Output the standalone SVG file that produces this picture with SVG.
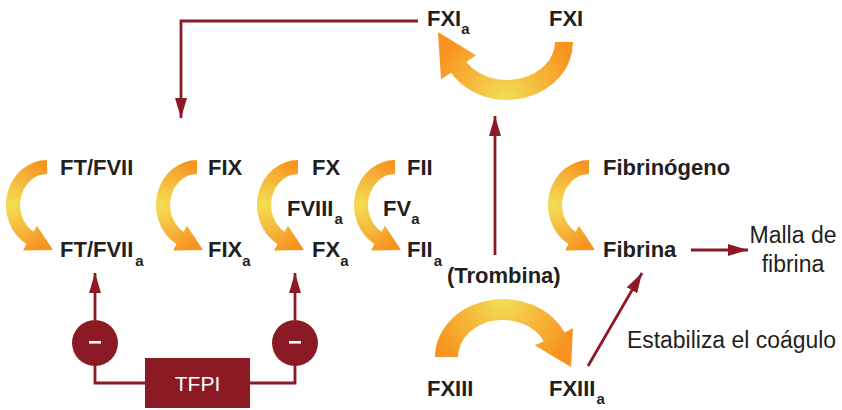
<svg xmlns="http://www.w3.org/2000/svg" xmlns:xlink="http://www.w3.org/1999/xlink" width="842" height="410" viewBox="0 0 842 410">
<style>
.b{font-family:"Liberation Sans",Arial,sans-serif;font-weight:bold;font-size:22px;fill:#231f20}
.s{font-size:15px}
.r{font-family:"Liberation Sans",Arial,sans-serif;font-size:23px;fill:#231f20}
.ln{fill:none;stroke:#8c1a24;stroke-width:2.8}
.dk{fill:#8c1a24}
.w{font-family:"Liberation Sans",Arial,sans-serif;font-size:21px;fill:#ffffff}
</style>
<defs>
<radialGradient id="gs" gradientUnits="userSpaceOnUse" cx="12" cy="205" r="52">
<stop offset="0" stop-color="#f3df52"/><stop offset="0.5" stop-color="#f5b83c"/><stop offset="1" stop-color="#f7931e"/>
</radialGradient>
<radialGradient id="gt" gradientUnits="userSpaceOnUse" cx="505" cy="100" r="78">
<stop offset="0" stop-color="#f3df52"/><stop offset="0.5" stop-color="#f5b83c"/><stop offset="1" stop-color="#f7931e"/>
</radialGradient>
<radialGradient id="gb" gradientUnits="userSpaceOnUse" cx="503" cy="300" r="78">
<stop offset="0" stop-color="#f3df52"/><stop offset="0.5" stop-color="#f5b83c"/><stop offset="1" stop-color="#f7931e"/>
</radialGradient>
<path id="carc" fill="url(#gs)" d="M47 160 A41 45 0 0 0 26.5 244 L23 250.5 L53 250 L37 225.7 L33.5 231.8 A27 31 0 0 1 47 174 Z"/>
<marker id="ah" markerUnits="userSpaceOnUse" markerWidth="22" markerHeight="12" refX="20" refY="6" orient="auto" viewBox="0 0 22 12">
<path d="M0 0 L20 6 L0 12 Z" fill="#8c1a24"/>
</marker>
</defs>

<g id="arcs">
<use xlink:href="#carc"/>
<use xlink:href="#carc" x="150"/>
<use xlink:href="#carc" x="251"/>
<use xlink:href="#carc" x="348"/>
<use xlink:href="#carc" x="542"/>
<path fill="url(#gt)" d="M573 42 A66 58 0 0 1 451 72.7 L441 79.5 L438 32 L476 55.3 L466.3 62.1 A48 38 0 0 0 555 42 Z"/>
<path fill="url(#gb)" d="M435 357 A68 58 0 0 1 564.6 332.5 L573 328 L571 367 L534.6 345.2 L543.8 341.3 A45 37 0 0 0 458 357 Z"/>
</g>

<g id="connectors">
<path class="ln" d="M418 21 H181 V118" marker-end="url(#ah)"/>
<path class="ln" d="M495 255 V116" marker-end="url(#ah)"/>
<path class="ln" d="M691 250 H748" marker-end="url(#ah)"/>
<path class="ln" d="M588 366 L642 273" marker-end="url(#ah)"/>
<path class="ln" d="M145 383 H95 V366"/>
<path class="ln" d="M95 320 V273" marker-end="url(#ah)"/>
<path class="ln" d="M250 383 H295 V366"/>
<path class="ln" d="M295 320 V273" marker-end="url(#ah)"/>
</g>

<g id="ftfvii"><text class="b" x="60" y="175">FT/FVII</text></g>
<g id="ftfviia"><text class="b" x="60" y="257">FT/FVII<tspan class="s" dx="2" dy="9">a</tspan></text></g>
<g id="fix"><text class="b" x="208" y="175">FIX</text></g>
<g id="fixa"><text class="b" x="208" y="257">FIX<tspan class="s" dx="0" dy="9">a</tspan></text></g>
<g id="fx"><text class="b" x="312" y="175">FX</text></g>
<g id="fviiia"><text class="b" x="287" y="216">FVIII<tspan class="s" dx="1" dy="8">a</tspan></text></g>
<g id="fxa"><text class="b" x="312" y="257">FX<tspan class="s" dx="0" dy="9">a</tspan></text></g>
<g id="fii"><text class="b" x="407" y="175">FII</text></g>
<g id="fva"><text class="b" x="383" y="216">FV<tspan class="s" dx="0" dy="8">a</tspan></text></g>
<g id="fiia"><text class="b" x="407" y="257">FII<tspan class="s" dx="1" dy="9">a</tspan></text></g>
<g id="fxia"><text class="b" x="427" y="26">FXI<tspan class="s" dx="0" dy="8">a</tspan></text></g>
<g id="fxi"><text class="b" x="549" y="26">FXI</text></g>
<g id="trombina"><text class="b" x="447" y="283">(Trombina)</text></g>
<g id="fibrinogeno"><text class="b" x="603" y="175">Fibrinógeno</text></g>
<g id="fibrina"><text class="b" x="603" y="257">Fibrina</text></g>
<g id="malla"><text class="r" text-anchor="middle"><tspan x="793" y="243">Malla de</tspan><tspan x="793" y="272">fibrina</tspan></text></g>
<g id="fxiii"><text class="b" x="427" y="396">FXIII</text></g>
<g id="fxiiia"><text class="b" x="549" y="396">FXIII<tspan class="s" dx="1" dy="8">a</tspan></text></g>
<g id="estabiliza"><text class="r" x="627" y="348" textLength="209" lengthAdjust="spacingAndGlyphs">Estabiliza el coágulo</text></g>

<g id="inhib-left"><circle class="dk" cx="95" cy="343" r="23"/><rect x="89" y="341" width="12" height="2.6" fill="#fff"/></g>
<g id="inhib-right"><circle class="dk" cx="295" cy="343" r="23"/><rect x="289" y="341" width="12" height="2.6" fill="#fff"/></g>
<g id="tfpi"><rect class="dk" x="145" y="358" width="105" height="50"/><text class="w" x="197.5" y="391" text-anchor="middle">TFPI</text></g>
</svg>
